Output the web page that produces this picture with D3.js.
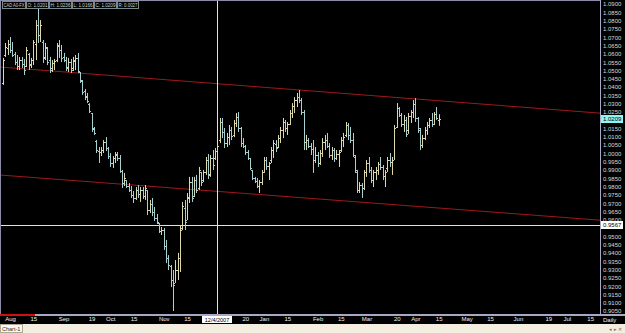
<!DOCTYPE html>
<html>
<head>
<meta charset="utf-8">
<script src="https://cdn.jsdelivr.net/npm/d3@7"></script>
<style>
body { margin: 0; background: #000; overflow: hidden; }
text { font-family: "Liberation Sans", Arial, sans-serif; }
</style>
</head>
<body>
<script>
// daily bars, weekdays from this date
var startDate = "2007-07-27";

var highs = [1.0575,1.0665,1.0683,1.0701,1.0671,1.0611,1.0593,1.0581,1.0581,1.0569,
  1.0641,1.0605,1.0575,1.0683,1.0803,1.0882,1.0803,1.0683,1.0665,1.0641,
  1.0581,1.0562,1.0569,1.0665,1.0683,1.0653,1.0605,1.0581,1.0575,1.0569,
  1.0581,1.0593,1.0605,1.0490,1.0442,1.0388,1.0364,1.0303,1.0243,1.0159,
  1.0080,1.0038,1.0038,1.0080,1.0098,1.0038,1.0002,0.9984,1.0008,1.0008,
  0.9990,0.9900,0.9882,0.9839,0.9821,0.9803,0.9773,0.9797,0.9809,0.9797,
  0.9797,0.9809,0.9779,0.9719,0.9731,0.9677,0.9635,0.9580,0.9556,0.9550,
  0.9478,0.9387,0.9327,0.9297,0.9357,0.9400,0.9568,0.9707,0.9719,0.9761,
  0.9858,0.9858,0.9858,0.9870,0.9918,0.9888,0.9900,0.9978,0.9996,0.9990,
  1.0020,1.0032,1.0062,1.0213,1.0213,1.0153,1.0123,1.0171,1.0159,1.0201,
  1.0243,1.0249,1.0159,1.0092,1.0050,1.0020,0.9972,0.9900,0.9858,0.9851,
  0.9839,0.9900,0.9978,0.9978,0.9948,1.0038,1.0080,1.0080,1.0111,1.0159,
  1.0213,1.0201,1.0189,1.0261,1.0303,1.0339,1.0364,1.0382,1.0333,1.0261,
  1.0111,1.0092,1.0062,1.0080,1.0038,1.0008,1.0020,1.0092,1.0111,1.0123,
  1.0062,1.0038,1.0032,1.0020,1.0020,1.0098,1.0123,1.0189,1.0183,1.0159,
  1.0123,0.9990,0.9900,0.9827,0.9821,0.9900,0.9960,0.9978,0.9918,0.9900,
  0.9918,0.9948,0.9978,0.9930,0.9900,0.9978,1.0002,0.9978,1.0171,1.0303,
  1.0279,1.0243,1.0231,1.0219,1.0243,1.0261,1.0321,1.0333,1.0219,1.0153,
  1.0111,1.0159,1.0189,1.0213,1.0243,1.0249,1.0279,1.0236];

var lows = [1.0412,1.0581,1.0593,1.0605,1.0581,1.0532,1.0502,1.0502,1.0514,1.0472,
  1.0520,1.0502,1.0514,1.0532,1.0562,1.0665,1.0671,1.0544,1.0562,1.0532,
  1.0484,1.0490,1.0502,1.0550,1.0575,1.0550,1.0550,1.0496,1.0490,1.0484,
  1.0496,1.0502,1.0484,1.0424,1.0352,1.0321,1.0303,1.0243,1.0129,1.0111,
  1.0002,0.9942,0.9984,1.0002,1.0014,0.9966,0.9918,0.9912,0.9942,0.9954,
  0.9882,0.9791,0.9803,0.9791,0.9767,0.9731,0.9701,0.9719,0.9731,0.9707,
  0.9725,0.9719,0.9628,0.9640,0.9622,0.9592,0.9574,0.9520,0.9508,0.9418,
  0.9339,0.9297,0.9194,0.9050,0.9219,0.9237,0.9285,0.9538,0.9538,0.9598,
  0.9701,0.9707,0.9737,0.9761,0.9779,0.9803,0.9827,0.9870,0.9845,0.9858,
  0.9900,0.9960,0.9978,1.0062,1.0092,1.0032,1.0038,1.0050,1.0080,1.0098,
  1.0159,1.0129,1.0038,1.0032,0.9990,0.9960,0.9900,0.9839,0.9821,0.9791,
  0.9761,0.9809,0.9882,0.9900,0.9839,0.9942,0.9972,1.0008,1.0032,1.0062,
  1.0092,1.0129,1.0111,1.0171,1.0213,1.0243,1.0279,1.0303,1.0231,1.0020,
  1.0020,1.0032,0.9990,0.9882,0.9942,0.9918,0.9930,0.9978,1.0020,1.0032,
  0.9972,0.9960,0.9948,0.9960,0.9918,1.0008,1.0038,1.0098,1.0080,1.0062,
  0.9978,0.9882,0.9761,0.9761,0.9731,0.9779,0.9858,0.9882,0.9821,0.9797,
  0.9839,0.9870,0.9900,0.9839,0.9797,0.9888,0.9918,0.9870,0.9960,1.0153,
  1.0219,1.0159,1.0129,1.0098,1.0117,1.0183,1.0213,1.0189,1.0123,1.0020,
  1.0032,1.0080,1.0111,1.0153,1.0159,1.0171,1.0201,1.0166];

var opens = [1.0424,1.0593,1.0635,1.0659,1.0623,1.0599,1.0550,1.0526,1.0562,1.0538,
  1.0526,1.0599,1.0538,1.0562,1.0659,1.0773,1.0713,1.0671,1.0581,1.0635,
  1.0562,1.0514,1.0544,1.0562,1.0653,1.0623,1.0581,1.0562,1.0520,1.0550,
  1.0514,1.0556,1.0575,1.0490,1.0436,1.0376,1.0345,1.0297,1.0243,1.0147,
  1.0074,1.0014,1.0008,1.0020,1.0068,1.0032,0.9984,0.9942,0.9972,0.9990,
  0.9972,0.9894,0.9821,0.9839,0.9803,0.9779,0.9749,0.9731,0.9779,0.9755,
  0.9779,0.9743,0.9779,0.9659,0.9695,0.9646,0.9610,0.9580,0.9532,0.9538,
  0.9442,0.9369,0.9321,0.9237,0.9219,0.9297,0.9369,0.9550,0.9671,0.9598,
  0.9731,0.9827,0.9743,0.9839,0.9791,0.9888,0.9839,0.9888,0.9960,0.9876,
  0.9972,0.9972,1.0014,1.0080,1.0189,1.0129,1.0062,1.0098,1.0141,1.0111,
  1.0183,1.0219,1.0153,1.0062,1.0044,1.0008,0.9972,0.9900,0.9851,0.9833,
  0.9803,0.9827,0.9888,0.9960,0.9924,0.9960,1.0020,1.0056,1.0038,1.0092,
  1.0141,1.0189,1.0153,1.0177,1.0243,1.0285,1.0321,1.0339,1.0321,1.0249,
  1.0068,1.0080,1.0044,1.0026,0.9960,0.9990,0.9942,1.0002,1.0068,1.0080,
  1.0044,0.9990,1.0020,0.9972,0.9996,1.0020,1.0080,1.0111,1.0171,1.0111,
  1.0080,0.9978,0.9888,0.9779,0.9809,0.9791,0.9888,0.9942,0.9900,0.9839,
  0.9888,0.9900,0.9936,0.9918,0.9864,0.9912,0.9960,0.9948,0.9960,1.0159,
  1.0273,1.0231,1.0177,1.0201,1.0141,1.0225,1.0249,1.0297,1.0213,1.0141,
  1.0050,1.0092,1.0141,1.0171,1.0201,1.0177,1.0237,1.0201];

var closes = [1.0562,1.0641,1.0659,1.0623,1.0593,1.0550,1.0526,1.0562,1.0538,1.0502,
  1.0623,1.0532,1.0562,1.0671,1.0773,1.0713,1.0773,1.0575,1.0641,1.0550,
  1.0502,1.0544,1.0556,1.0647,1.0623,1.0575,1.0562,1.0514,1.0550,1.0502,
  1.0562,1.0575,1.0496,1.0442,1.0370,1.0339,1.0315,1.0255,1.0153,1.0123,
  1.0020,1.0008,1.0020,1.0068,1.0032,0.9984,0.9942,0.9972,0.9996,0.9972,
  0.9894,0.9821,0.9851,0.9803,0.9779,0.9749,0.9731,0.9779,0.9755,0.9779,
  0.9743,0.9791,0.9659,0.9695,0.9646,0.9610,0.9586,0.9532,0.9538,0.9442,
  0.9369,0.9327,0.9237,0.9207,0.9297,0.9369,0.9538,0.9683,0.9586,0.9737,
  0.9827,0.9731,0.9839,0.9779,0.9900,0.9827,0.9888,0.9960,0.9870,0.9972,
  0.9930,1.0014,1.0044,1.0189,1.0129,1.0062,1.0098,1.0141,1.0104,1.0183,
  1.0219,1.0153,1.0062,1.0044,1.0008,0.9972,0.9912,0.9851,0.9833,0.9803,
  0.9827,0.9888,0.9960,0.9924,0.9942,1.0020,1.0062,1.0032,1.0092,1.0141,
  1.0189,1.0153,1.0177,1.0243,1.0285,1.0321,1.0339,1.0321,1.0249,1.0068,
  1.0080,1.0044,1.0026,0.9960,0.9990,0.9942,1.0002,1.0068,1.0080,1.0044,
  0.9990,1.0020,0.9972,0.9996,1.0008,1.0080,1.0098,1.0171,1.0111,1.0080,
  0.9990,0.9900,0.9779,0.9809,0.9791,0.9888,0.9942,0.9900,0.9839,0.9888,
  0.9900,0.9936,0.9918,0.9864,0.9888,0.9960,0.9948,0.9960,1.0153,1.0273,
  1.0231,1.0177,1.0201,1.0117,1.0225,1.0249,1.0297,1.0213,1.0153,1.0050,
  1.0092,1.0141,1.0171,1.0201,1.0177,1.0237,1.0213,1.0209];

var timeLabels = [["2007-08-01","Aug"],["2007-08-15","15"],["2007-09-03","Sep"],["2007-09-19","19"],
  ["2007-10-01","Oct"],["2007-10-15","15"],["2007-11-01","Nov"],["2007-11-15","15"],
  ["2007-12-20","20"],["2008-01-01","Jan"],["2008-01-15","15"],["2008-02-01","Feb"],
  ["2008-02-15","15"],["2008-03-03","Mar"],["2008-03-20","20"],["2008-04-01","Apr"],
  ["2008-04-15","15"],["2008-05-01","May"],["2008-05-15","15"],["2008-06-02","Jun"],
  ["2008-06-19","19"],["2008-07-01","Jul"],["2008-07-15","15"]];

var priceTicks = d3.range(0, 38).map(function(k) { return 0.905 + k * 0.005; });

// channel lines: [bar index, price]
var upperLine = [[0, 1.0519], [250, 1.0249]];
var lowerLine = [[0, 0.9868], [250, 0.9604]];

var crossDate = "2007-12-04", crossLabel = "12/4/2007", crossPrice = 0.9567;
var info = ["CAD A0-FX", "O: 1.0201", "H: 1.0236", "L: 1.0166", "C: 1.0209", "R: 0.0027"];

var w = 625, h = 333, pw = 600, ph = 314;

var parse = d3.utcParse("%Y-%m-%d");
var t0 = parse(startDate);
function barIndex(s) {
  return d3.utcDay.range(t0, parse(s)).filter(function(d) { return d.getUTCDay() % 6 != 0; }).length;
}

var x = d3.scaleLinear().domain([0, 100]).range([3, 236]);
var y = d3.scaleLinear().domain([0.905, 1.09]).range([311, 4]);

var svg = d3.select("body").append("svg")
    .attr("width", w)
    .attr("height", h);

svg.append("rect").attr("width", w).attr("height", h).attr("fill", "#000");

svg.append("defs").append("clipPath").attr("id", "plot")
  .append("rect").attr("x", 1).attr("y", 1).attr("width", pw - 1).attr("height", ph - 1);

var plot = svg.append("g").attr("clip-path", "url(#plot)");

// channel
function trend(l) {
  var a = l[0], b = l[1], s = (b[1] - a[1]) / (b[0] - a[0]);
  var i0 = x.invert(0), i1 = x.invert(pw);
  return [[0, y(a[1] + s * (i0 - a[0]))], [pw, y(a[1] + s * (i1 - a[0]))]];
}
[upperLine, lowerLine].forEach(function(l) {
  var p = trend(l);
  plot.append("line")
      .attr("x1", p[0][0]).attr("y1", p[0][1])
      .attr("x2", p[1][0]).attr("y2", p[1][1])
      .attr("stroke", "#9c1a1a")
      .attr("stroke-width", 1);
});

// crosshair
var cx = Math.round(x(barIndex(crossDate))) + 0.5, cy = Math.round(y(crossPrice)) + 0.5;
plot.append("line").attr("x1", cx).attr("x2", cx).attr("y1", 0).attr("y2", ph)
    .attr("stroke", "#e0e0e0");
plot.append("line").attr("x1", 0).attr("x2", pw).attr("y1", cy).attr("y2", cy)
    .attr("stroke", "#e0e0e0");

// OHLC bars
var bars = plot.selectAll("g.bar")
    .data(highs.map(function(d, i) { return i; }))
  .enter().append("g")
    .attr("stroke", function(i) { return closes[i] >= opens[i] ? "#dcd8ac" : "#a6d0d2"; })
    .attr("stroke-width", 1);

bars.append("line")
    .attr("x1", function(i) { return Math.round(x(i)) + 0.5; })
    .attr("x2", function(i) { return Math.round(x(i)) + 0.5; })
    .attr("y1", function(i) { return y(highs[i]); })
    .attr("y2", function(i) { return y(lows[i]); });
bars.append("line")
    .attr("x1", function(i) { return Math.round(x(i)) - 1; })
    .attr("x2", function(i) { return Math.round(x(i)); })
    .attr("y1", function(i) { return Math.round(y(opens[i])) + 0.5; })
    .attr("y2", function(i) { return Math.round(y(opens[i])) + 0.5; });
bars.append("line")
    .attr("x1", function(i) { return Math.round(x(i)) + 1; })
    .attr("x2", function(i) { return Math.round(x(i)) + 2; })
    .attr("y1", function(i) { return Math.round(y(closes[i])) + 0.5; })
    .attr("y2", function(i) { return Math.round(y(closes[i])) + 0.5; });

// frame
svg.append("line").attr("x1", 0.5).attr("x2", 0.5).attr("y1", 0).attr("y2", ph).attr("stroke", "#8c8ca8");
svg.append("line").attr("x1", 0).attr("x2", pw).attr("y1", 0.5).attr("y2", 0.5).attr("stroke", "#8c8ca8");
svg.append("line").attr("x1", pw + 0.5).attr("x2", pw + 0.5).attr("y1", 0).attr("y2", ph + 2).attr("stroke", "#a8a8c4");
svg.append("rect").attr("x", 0).attr("y", ph).attr("width", w).attr("height", 2).attr("fill", "#a8a8c4");
svg.append("rect").attr("x", 0).attr("y", ph).attr("width", 35).attr("height", 2).attr("fill", "#d01010");

// price axis (labels under the two price tags are left out)
var lastPrice = closes[closes.length - 1];
var shownTicks = priceTicks.filter(function(v) {
  return Math.abs(y(v) - y(lastPrice)) > 5 && Math.abs(y(v) - y(crossPrice)) > 5;
});
var yAxis = d3.axisRight(y).tickValues(shownTicks).tickFormat(d3.format(".4f")).tickSize(0).tickPadding(0);
var ya = svg.append("g").attr("transform", "translate(" + (pw + 3) + ",0)").call(yAxis);
ya.select(".domain").remove();
ya.selectAll("text").attr("fill", "#d8d8d8").attr("font-size", 6).attr("x", 0);

function priceTag(v, bg, fg) {
  var g = svg.append("g").attr("transform", "translate(" + (pw + 1) + "," + Math.round(y(v)) + ")");
  g.append("rect").attr("x", 0).attr("y", -4).attr("width", 22).attr("height", 8).attr("fill", bg);
  g.append("text").attr("x", 2).attr("y", 2.2).attr("font-size", 6).attr("fill", fg).text(d3.format(".4f")(v));
}
priceTag(lastPrice, "#8ff4f4", "#000");
priceTag(crossPrice, "#ffffff", "#000");

// time axis
var xAxis = d3.axisBottom(x)
    .tickValues(timeLabels.map(function(d) { return barIndex(d[0]); }))
    .tickFormat(function(d, i) { return timeLabels[i][1]; })
    .tickSize(0).tickPadding(0);
var xa = svg.append("g").attr("transform", "translate(0," + (ph + 3) + ")").call(xAxis);
xa.select(".domain").remove();
xa.selectAll("text").attr("fill", "#f0f0f0").attr("font-size", 6);

var cl = svg.append("g").attr("transform", "translate(" + Math.round(x(barIndex(crossDate))) + "," + (ph + 2) + ")");
cl.append("rect").attr("x", -15).attr("y", 0).attr("width", 30).attr("height", 7).attr("fill", "#fff");
cl.append("text").attr("x", 0).attr("y", 5.5).attr("font-size", 5.5).attr("text-anchor", "middle").attr("fill", "#000").text(crossLabel);

svg.append("text").attr("x", pw + 3).attr("y", ph + 8).attr("font-size", 6).attr("fill", "#f0f0f0").text("Daily");

// info boxes
var boxX = [2, 26, 49, 72, 94, 117];
info.forEach(function(s, i) {
  var bw = (i < 5 ? boxX[i + 1] : 139) - boxX[i] - 1;
  svg.append("rect").attr("x", boxX[i] + 0.5).attr("y", 1.5).attr("width", bw).attr("height", 7)
      .attr("fill", "#000").attr("stroke", "#7a8a8a");
  svg.append("text").attr("x", boxX[i] + 1.5).attr("y", 6.8).attr("font-size", 5)
      .attr("textLength", bw - 2).attr("lengthAdjust", "spacingAndGlyphs")
      .attr("fill", "#c8d8d8").text(s);
});

// status bar
svg.append("rect").attr("x", 0).attr("y", 324).attr("width", w).attr("height", 9).attr("fill", "#f3eedf");
svg.append("rect").attr("x", 0.5).attr("y", 324.5).attr("width", 22).attr("height", 8).attr("fill", "#faf8f0").attr("stroke", "#b0a890");
svg.append("text").attr("x", 2).attr("y", 331).attr("font-size", 5.5).attr("fill", "#303030").text("Chart-1");
svg.append("text").attr("x", 622).attr("y", 331).attr("font-size", 5).attr("text-anchor", "end").attr("fill", "#707070").text("◂ ▸ ✕");
</script>
</body>
</html>
